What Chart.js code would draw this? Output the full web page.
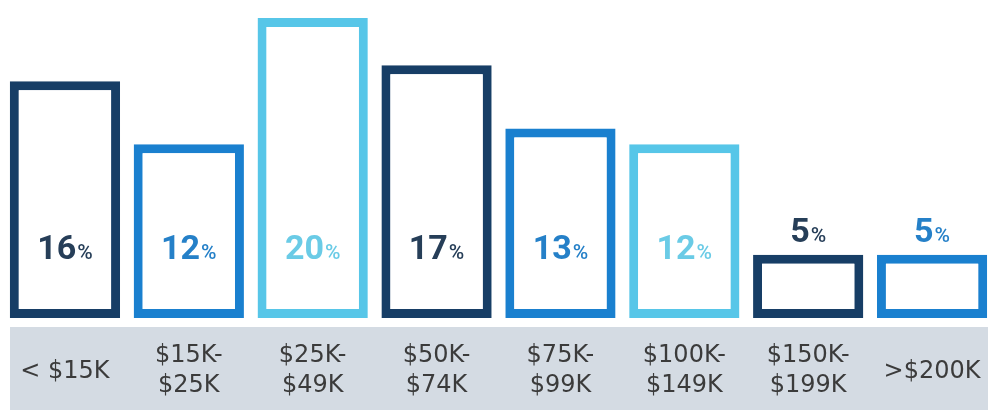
<!DOCTYPE html>
<html>
<head>
<meta charset="utf-8">
<script src="https://cdn.jsdelivr.net/npm/chart.js@4/dist/chart.umd.min.js"></script>
<style>
  html, body { margin: 0; padding: 0; background: #fff; overflow: hidden; }
  #wrap { width: 994px; height: 410px; }
</style>
</head>
<body>
<div id="wrap"><canvas id="incomeChart" width="994" height="410"></canvas></div>
<script>
// income brackets and share of households
const categories = [
  ['< $15K'],
  ['$15K-', '$25K'],
  ['$25K-', '$49K'],
  ['$50K-', '$74K'],
  ['$75K-', '$99K'],
  ['$100K-', '$149K'],
  ['$150K-', '$199K'],
  ['>$200K']
];
const shares = [16, 12, 20, 17, 13, 12, 5, 5];

const navy = '#173e66';
const blue = '#1a80cf';
const light = '#57c6e8';
const barColors = [navy, blue, light, navy, blue, light, navy, blue];
const textColors = ['#263e58', '#2580c8', '#6acbe6', '#263e58', '#2580c8', '#6acbe6', '#263e58', '#2580c8'];

const ctx = document.getElementById('incomeChart').getContext('2d');

const bandPlugin = {
  id: 'labelBand',
  beforeDraw: chart => {
    const c = chart.ctx;
    c.save();
    c.fillStyle = '#d4dbe3';
    c.fillRect(10, 327, chart.width - 10, chart.height - 327);
    c.restore();
  },
  afterDraw: chart => {
    const c = chart.ctx;
    const xScale = chart.scales.x;
    c.save();
    c.fillStyle = '#3b3b3b';
    c.font = '24px "DejaVu Sans"';
    c.textAlign = 'center';
    c.textBaseline = 'middle';
    categories.forEach((lines, i) => {
      const x = xScale.getPixelForValue(i);
      if (lines.length === 1) {
        c.fillText(lines[0], x, 372);
      } else {
        c.fillText(lines[0], x, 356);
        c.fillText(lines[1], x, 386);
      }
    });
    c.restore();
  }
};

const valuePlugin = {
  id: 'valueLabels',
  afterDatasetsDraw: chart => {
    const c = chart.ctx;
    const meta = chart.getDatasetMeta(0);
    c.save();
    c.textBaseline = 'alphabetic';
    c.textAlign = 'left';
    meta.data.forEach((bar, i) => {
      const num = String(shares[i]);
      const numFont = 'bold 34px Roboto';
      const pctFont = '500 21px Roboto';
      c.font = numFont;
      const wNum = c.measureText(num).width;
      c.font = pctFont;
      const wPct = c.measureText('%').width;
      const left = bar.x - (wNum + wPct + 1) / 2;
      const tall = bar.base - bar.y > 120;
      const baseline = tall ? bar.base - 59 : bar.y - 13;
      c.fillStyle = textColors[i];
      c.font = numFont;
      c.fillText(num, left, baseline);
      c.font = pctFont;
      c.fillText('%', left + wNum + 1, baseline);
    });
    c.restore();
  }
};

const incomeChart = new Chart(ctx, {
  type: 'bar',
  data: {
    labels: categories,
    datasets: [{
      data: shares,
      base: 1,
      backgroundColor: '#ffffff',
      borderColor: barColors,
      borderWidth: 9,
      borderSkipped: false,
      barPercentage: 0.89,
      categoryPercentage: 1
    }]
  },
  options: {
    responsive: false,
    animation: false,
    layout: {
      padding: { left: 3, right: 0, top: 18, bottom: 92 }
    },
    plugins: {
      legend: { display: false },
      tooltip: { enabled: false }
    },
    scales: {
      x: { display: false },
      y: { display: false, min: 1, max: 20 }
    }
  },
  plugins: [bandPlugin, valuePlugin]
});
</script>
</body>
</html>
